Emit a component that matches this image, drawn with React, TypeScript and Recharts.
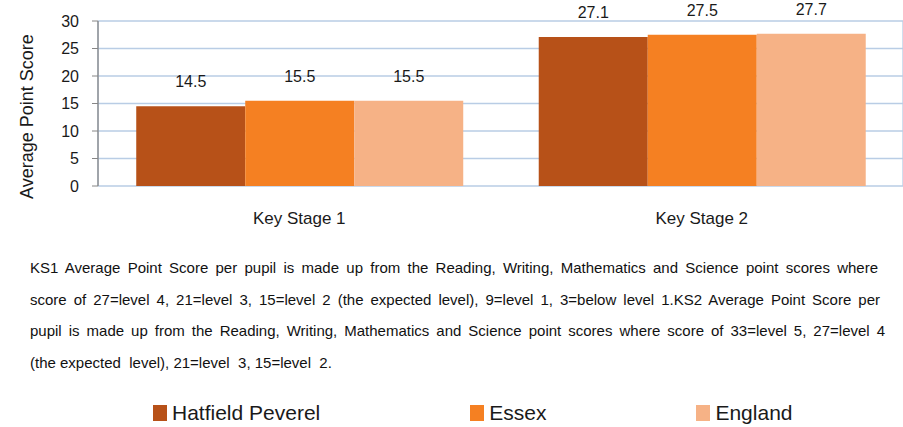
import React from 'react';
import { BarChart, Bar, XAxis, YAxis, CartesianGrid, LabelList, Legend } from 'recharts';

const categories = ['Key Stage 1', 'Key Stage 2'];
const hatfield = [14.5, 27.1];
const essex = [15.5, 27.5];
const england = [15.5, 27.7];
const yTicks = [0, 5, 10, 15, 20, 25, 30];
const edgeTicks = [0, 1, 2];
const seriesNames = ['Hatfield Peverel', 'Essex', 'England'];
const seriesColors = ['#B75118', '#F58022', '#F6B286'];
const footLines = [
  'KS1 Average Point Score per pupil is made up from the Reading, Writing, Mathematics and Science point scores where',
  'score of 27=level 4, 21=level 3, 15=level 2 (the expected level), 9=level 1, 3=below level 1.KS2 Average Point Score per',
  'pupil is made up from the Reading, Writing, Mathematics and Science point scores where score of 33=level 5, 27=level 4',
  '(the expected  level), 21=level  3, 15=level  2.',
];
const footWidths = [848, 850, 855, 0];

const data = categories.map((c, i) => ({
  name: c,
  idx: i + 0.5,
  s0: hatfield[i],
  s1: essex[i],
  s2: england[i],
}));

const FONT = '"Liberation Sans", Arial, sans-serif';

const renderLegend = (props: any) => {
  const payload = [...(props.payload || [])].sort(
    (a: any, b: any) => seriesNames.indexOf(a.value) - seriesNames.indexOf(b.value)
  );
  return (
    <div style={{ display: 'flex', alignItems: 'center', paddingLeft: 153, fontFamily: FONT, whiteSpace: 'nowrap' }}>
      {payload.map((p: any, i: number) => (
        <div
          key={i}
          style={{ display: 'flex', alignItems: 'center', flexShrink: 0, marginRight: i < payload.length - 1 ? 150 : 0 }}
        >
          <div style={{ width: 14, height: 16, background: p.color, marginRight: 5, flexShrink: 0 }} />
          <span style={{ fontSize: 21, color: '#1a1a1a', lineHeight: '24px' }}>{p.value}</span>
        </div>
      ))}
    </div>
  );
};

const YLabel = (props: any) => {
  const vb = props.viewBox || {};
  const x = (vb.x || 0) + 27;
  const y = (vb.y || 0) + (vb.height || 0) / 2 + 13;
  return (
    <text
      x={x}
      y={y}
      transform={`rotate(-90, ${x}, ${y})`}
      textAnchor="middle"
      dominantBaseline="central"
      fontSize={18}
      fontFamily={FONT}
      fill="#1a1a1a"
    >
      Average Point Score
    </text>
  );
};

export default function App() {
  return (
    <div style={{ position: 'absolute', left: 0, top: 0, width: 903, height: 427, background: '#fff', fontFamily: FONT, overflow: 'hidden' }}>
      <BarChart
        width={903}
        height={427}
        data={data}
        margin={{ top: 21, right: 0, left: 0, bottom: 211 }}
        barGap={0}
        barCategoryGap="9.5%"
      >
        <CartesianGrid xAxisId="edge" stroke="#B9CDE5" strokeWidth={1.3} vertical={true} horizontal={true} />
        <XAxis
          xAxisId="edge"
          dataKey="idx"
          type="number"
          domain={[0, 2]}
          ticks={edgeTicks}
          height={0}
          tick={false}
          tickLine={{ stroke: '#868686' }}
          tickSize={6}
          axisLine={{ stroke: '#868686', strokeWidth: 1.3 }}
        />
        <XAxis
          dataKey="name"
          height={30}
          axisLine={false}
          tickLine={false}
          tickSize={0}
          tickMargin={26}
          tick={{ fontSize: 17, fill: '#1a1a1a', fontFamily: FONT }}
        />
        <YAxis
          width={98}
          domain={[0, 30]}
          ticks={yTicks}
          interval={0}
          axisLine={{ stroke: '#868686', strokeWidth: 1.3 }}
          tickLine={{ stroke: '#868686' }}
          tickSize={6}
          tickMargin={13}
          tick={{ fontSize: 16, fill: '#1a1a1a', fontFamily: FONT }}
          label={<YLabel />}
        />
        <Legend
          layout="horizontal"
          verticalAlign="middle"
          align="center"
          wrapperStyle={{ top: 401, left: 0, width: 903 }}
          content={renderLegend}
        />
        {['s0', 's1', 's2'].map((k, i) => (
          <Bar key={k} dataKey={k} name={seriesNames[i]} fill={seriesColors[i]} isAnimationActive={false}>
            <LabelList dataKey={k} position="top" offset={19} fontSize={16} fill="#1a1a1a" fontFamily={FONT} />
          </Bar>
        ))}
      </BarChart>
      <div style={{ position: 'absolute', left: 30, top: 252, fontSize: 15, lineHeight: '31.5px', color: '#111', whiteSpace: 'pre' }}>
        {footLines.map((t, i) => (
          <div
            key={i}
            style={{
              width: footWidths[i] || undefined,
              textAlign: footWidths[i] ? 'justify' : 'left',
              textAlignLast: footWidths[i] ? 'justify' : 'auto',
              whiteSpace: footWidths[i] ? 'nowrap' : 'pre',
            }}
          >
            {t}
          </div>
        ))}
      </div>
    </div>
  );
}
